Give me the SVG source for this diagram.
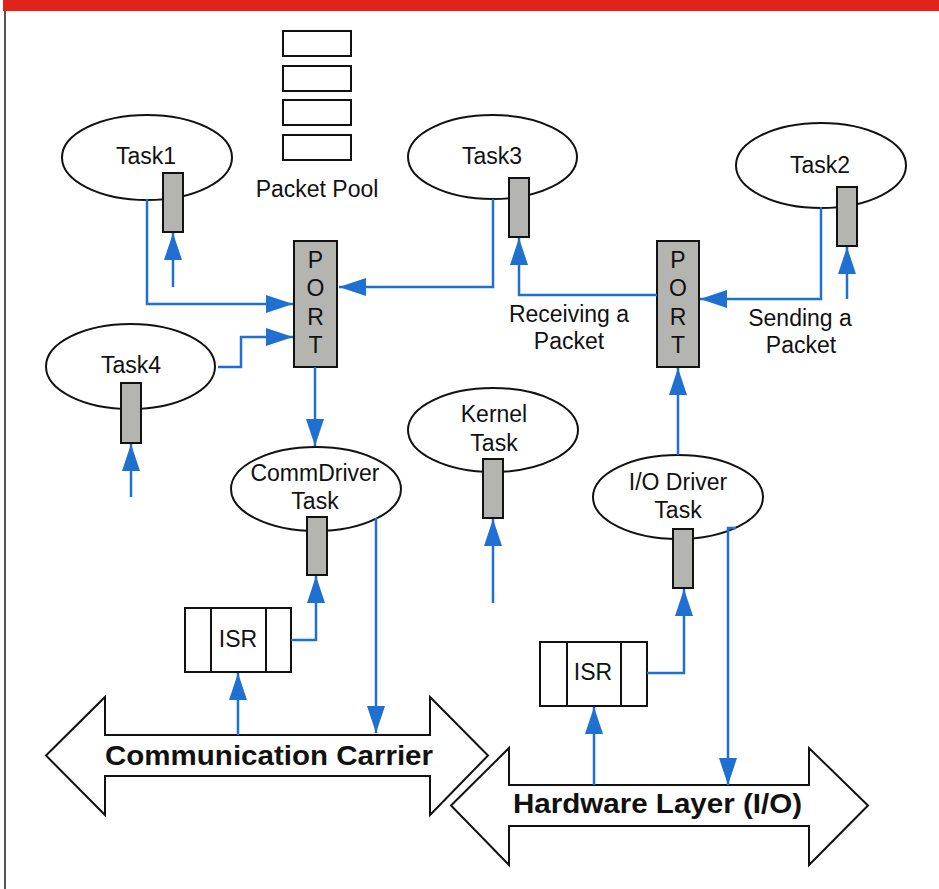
<svg xmlns="http://www.w3.org/2000/svg" width="939" height="889" viewBox="0 0 939 889">
  <style>
    .lbl { font-family: "Liberation Sans", Arial, sans-serif; font-size: 23px; fill: #111; text-anchor: middle; }
    .big { font-family: "Liberation Sans", Arial, sans-serif; font-size: 27px; font-weight: bold; fill: #111; }
    .task { fill: #fff; stroke: #111; stroke-width: 2; }
    .port { fill: #b4b4b0; stroke: #111; stroke-width: 2; }
    .box { fill: #fff; stroke: #111; stroke-width: 2; }
    .wire { fill: none; stroke: #1f70d0; stroke-width: 2.5; marker-end: url(#head); }
  </style>
  <defs>
    <marker id="head" markerUnits="userSpaceOnUse" markerWidth="27" markerHeight="18" refX="27" refY="9" orient="auto">
      <path d="M0,0 L27,9 L0,18 z" fill="#1f70d0"/>
    </marker>
  </defs>

  <rect x="0" y="0" width="939" height="889" fill="#fff"/>
  <!-- frame -->
  <rect x="3" y="0" width="936" height="11" fill="#e2231a"/>
  <line x1="5" y1="11" x2="5" y2="889" stroke="#555" stroke-width="2"/>

  <!-- bus arrows -->
  <g id="comm-carrier">
    <polygon class="box" points="46,755.5 105,697 105,735 430,735 430,697 488,755.5 430,815 430,776 105,776 105,815"/>
    <text class="big" x="105" y="765" textLength="328" lengthAdjust="spacingAndGlyphs">Communication Carrier</text>
  </g>
  <g id="hardware-layer">
    <polygon class="box" points="451,805.5 509,748 509,785 809,785 809,748 868,805.5 809,865 809,826 509,826 509,865"/>
    <text class="big" x="513" y="813" textLength="289" lengthAdjust="spacingAndGlyphs">Hardware Layer (I/O)</text>
  </g>

  <!-- packet pool -->
  <g id="packet-pool">
    <rect class="box" x="283" y="31" width="68" height="25"/>
    <rect class="box" x="283" y="66" width="68" height="25"/>
    <rect class="box" x="283" y="100" width="68" height="25"/>
    <rect class="box" x="283" y="135" width="68" height="25"/>
    <text class="lbl" x="317" y="197">Packet Pool</text>
  </g>

  <!-- tasks -->
  <g id="task1">
    <ellipse class="task" cx="147" cy="157.5" rx="85" ry="42.5"/>
    <text class="lbl" x="146" y="164">Task1</text>
    <rect class="port" x="163" y="173" width="20" height="59"/>
  </g>
  <g id="task3">
    <ellipse class="task" cx="492.5" cy="157" rx="84.5" ry="42"/>
    <text class="lbl" x="492" y="164">Task3</text>
    <rect class="port" x="509" y="178" width="20" height="59"/>
  </g>
  <g id="task2">
    <ellipse class="task" cx="821" cy="165.5" rx="85" ry="42.5"/>
    <text class="lbl" x="820" y="173">Task2</text>
    <rect class="port" x="837" y="187" width="20" height="59"/>
  </g>
  <g id="task4">
    <ellipse class="task" cx="130.5" cy="366.5" rx="84.5" ry="42.5"/>
    <text class="lbl" x="131" y="373">Task4</text>
    <rect class="port" x="121" y="383" width="20" height="60"/>
  </g>
  <g id="kernel-task">
    <ellipse class="task" cx="493" cy="430" rx="85" ry="42"/>
    <text class="lbl" x="494" y="422">Kernel</text>
    <text class="lbl" x="494" y="451">Task</text>
    <rect class="port" x="483" y="459" width="20" height="59"/>
  </g>
  <g id="commdriver-task">
    <ellipse class="task" cx="316" cy="489" rx="85" ry="42"/>
    <text class="lbl" x="315" y="481">CommDriver</text>
    <text class="lbl" x="315" y="509">Task</text>
    <rect class="port" x="307" y="517" width="20" height="58"/>
  </g>
  <g id="io-driver-task">
    <ellipse class="task" cx="678" cy="497" rx="85" ry="42"/>
    <text class="lbl" x="678" y="490">I/O Driver</text>
    <text class="lbl" x="678" y="518">Task</text>
    <rect class="port" x="673" y="529" width="20" height="59"/>
  </g>

  <!-- ports -->
  <g id="port-left">
    <rect class="port" x="294" y="241" width="43" height="126"/>
    <text class="lbl" x="315.5" y="268">P</text>
    <text class="lbl" x="315.5" y="296">O</text>
    <text class="lbl" x="315.5" y="325">R</text>
    <text class="lbl" x="315.5" y="353">T</text>
  </g>
  <g id="port-right">
    <rect class="port" x="657" y="241" width="42" height="126"/>
    <text class="lbl" x="678" y="268">P</text>
    <text class="lbl" x="678" y="296">O</text>
    <text class="lbl" x="678" y="325">R</text>
    <text class="lbl" x="678" y="353">T</text>
  </g>

  <!-- interrupt service routines -->
  <g id="isr-comm">
    <rect class="box" x="185" y="608" width="106" height="64"/>
    <line x1="211" y1="608" x2="211" y2="672" stroke="#111" stroke-width="2"/>
    <line x1="266" y1="608" x2="266" y2="672" stroke="#111" stroke-width="2"/>
    <text class="lbl" x="238" y="647">ISR</text>
  </g>
  <g id="isr-io">
    <rect class="box" x="540" y="642" width="107" height="64"/>
    <line x1="567" y1="642" x2="567" y2="706" stroke="#111" stroke-width="2"/>
    <line x1="621" y1="642" x2="621" y2="706" stroke="#111" stroke-width="2"/>
    <text class="lbl" x="593" y="680">ISR</text>
  </g>

  <!-- captions -->
  <g id="captions">
    <text class="lbl" x="569" y="322">Receiving a</text>
    <text class="lbl" x="569" y="349">Packet</text>
    <text class="lbl" x="800" y="326">Sending a</text>
    <text class="lbl" x="801" y="353">Packet</text>
  </g>

  <!-- connectors -->
  <g id="connectors">
    <path class="wire" d="M147,199 V304 H293"/>
    <path class="wire" d="M173,287 V233"/>
    <path class="wire" d="M493,199 V287 H339"/>
    <path class="wire" d="M218,367 H241 V337 H293"/>
    <path class="wire" d="M131,497 V444"/>
    <path class="wire" d="M315,367 V446"/>
    <path class="wire" d="M291,640 H316 V576"/>
    <path class="wire" d="M376,518 V733"/>
    <path class="wire" d="M238,735 V673"/>
    <path class="wire" d="M493,603 V519"/>
    <path class="wire" d="M678,455 V368"/>
    <path class="wire" d="M657,295 H519 V238"/>
    <path class="wire" d="M821,207 V299 H700"/>
    <path class="wire" d="M847,299 V247"/>
    <path class="wire" d="M647,673 H684 V589"/>
    <path class="wire" d="M736,528 H728 V785"/>
    <path class="wire" d="M594,785 V707"/>
  </g>
</svg>
